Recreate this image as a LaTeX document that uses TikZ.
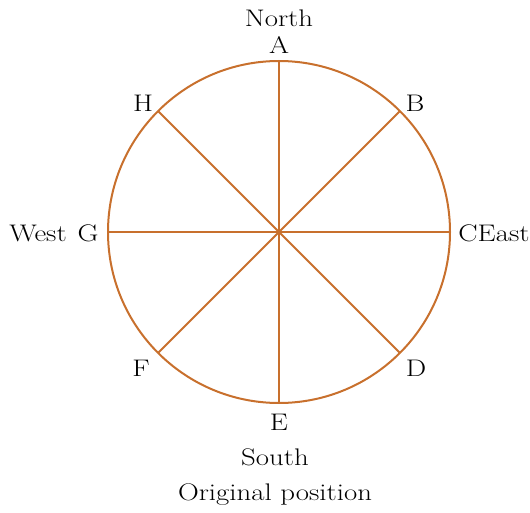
\documentclass[tikz,border=0pt]{standalone}
\usepackage{fontspec}
\setmainfont{Latin Modern Roman}[FakeStretch=1.2]
\begin{document}
\begin{tikzpicture}[x=1pt,y=-1pt,
  ln/.style={draw=rimc,line width=2pt},
  lbl/.style={font=\fontsize{24}{28}\selectfont,inner sep=0pt,text=black}]
\definecolor{rimc}{RGB}{200,112,45}
\useasboundingbox (0,0) rectangle (530,513);
\coordinate (O) at (279,232);
\coordinate (pA) at (279,61);
\coordinate (pB) at (400,111);
\coordinate (pC) at (450,232);
\coordinate (pD) at (400,353);
\coordinate (pE) at (279,403);
\coordinate (pF) at (158,353);
\coordinate (pG) at (108,232);
\coordinate (pH) at (158,111);
\draw[ln] (O) circle[radius=171];
\draw[ln] (pA) -- (pE);
\draw[ln] (pB) -- (pF);
\draw[ln] (pC) -- (pG);
\draw[ln] (pD) -- (pH);
\node[lbl] (north) at (279,18) {North};
\node[lbl] (A) at (279,45) {A};
\node[lbl] (B) at (415,103) {B};
\node[lbl] (C) at (494,233) {CEast};
\node[lbl] (D) at (416,368) {D};
\node[lbl] (E) at (279,422) {E};
\node[lbl] (south) at (275,457) {South};
\node[lbl] (F) at (141,368) {F};
\node[lbl] (G) at (38,233) {West};
\node[lbl] (Gl) at (88,233) {G};
\node[lbl] (H) at (143,103) {H};
\node[lbl] (cap) at (275,495) {Original position};
\end{tikzpicture}
\end{document}
